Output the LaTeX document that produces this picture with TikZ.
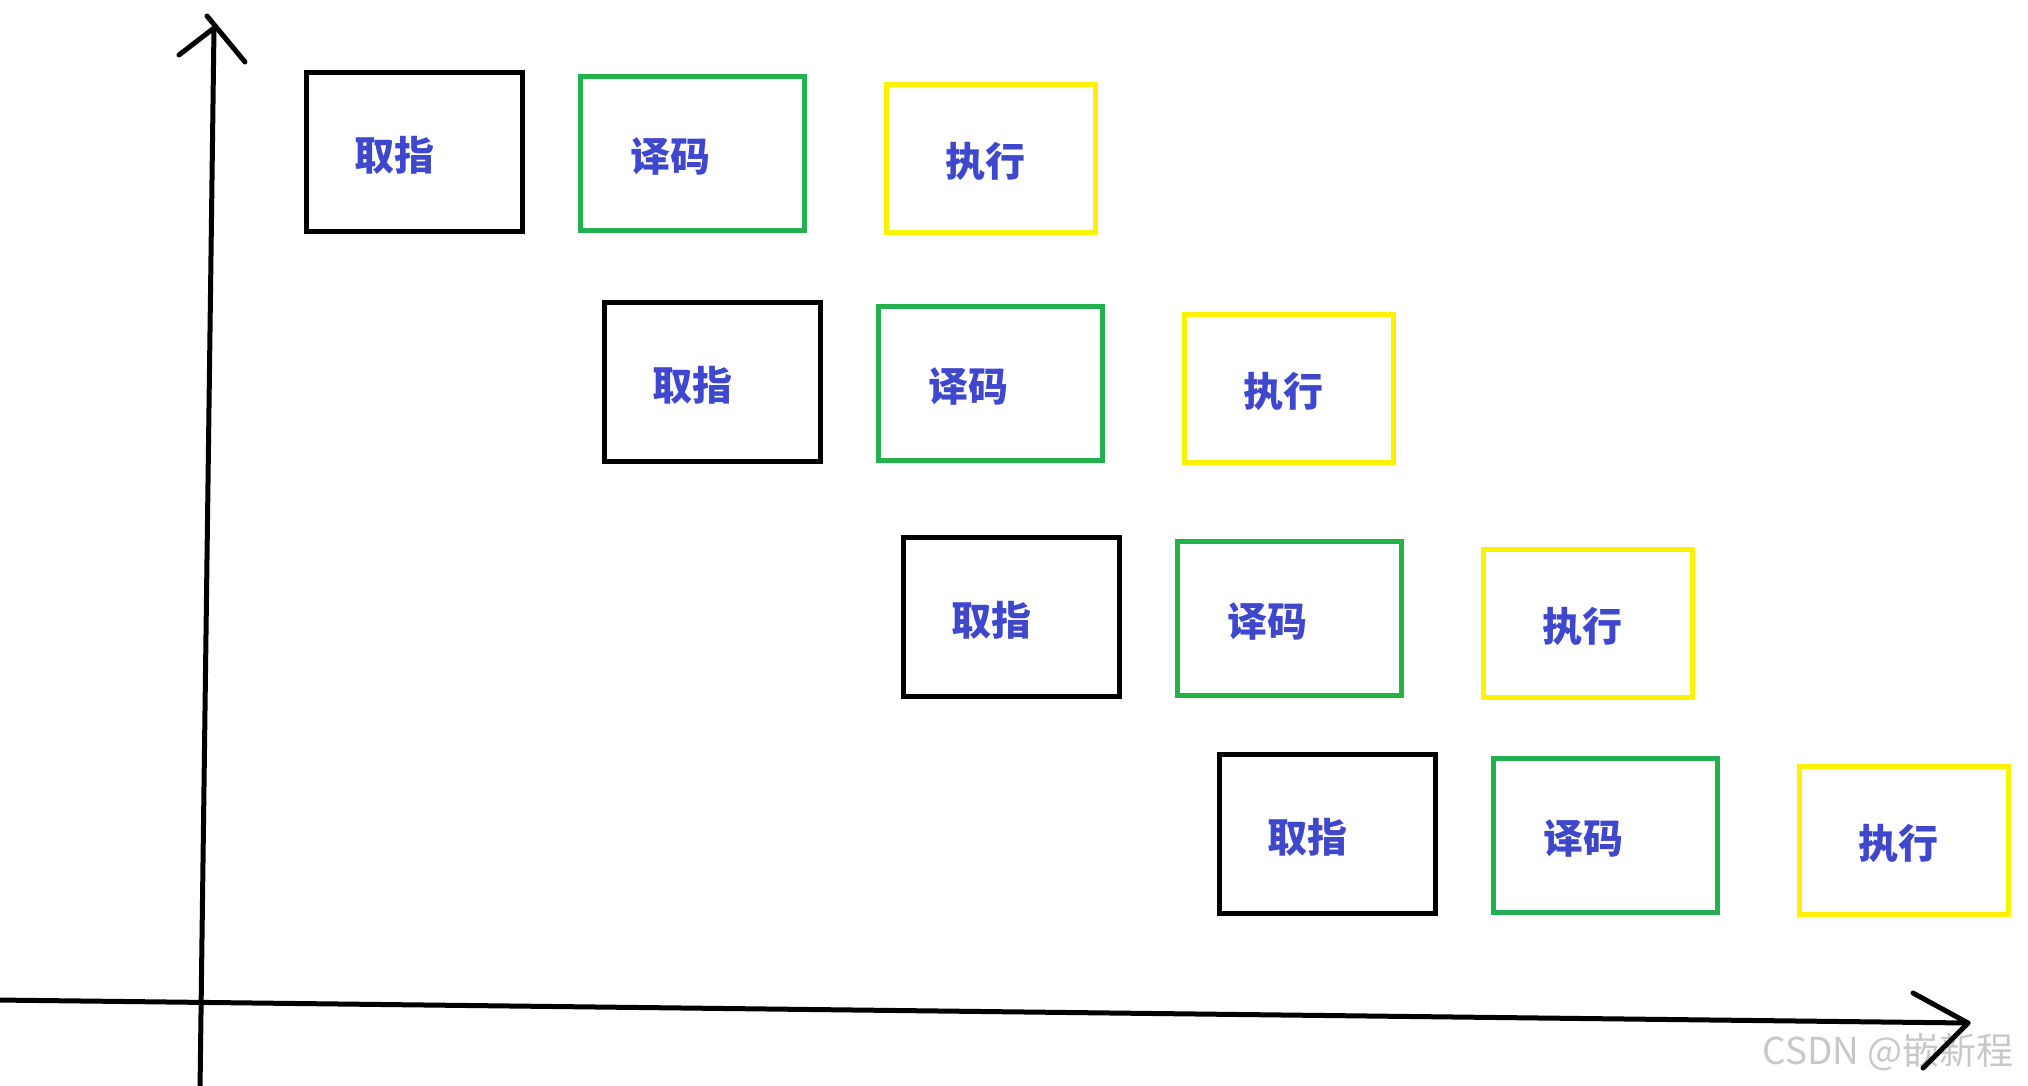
\documentclass[tikz,border=0pt]{standalone}
\usepackage{fontspec}
\newfontfamily\cjk{Noto Sans CJK SC}
\usetikzlibrary{positioning}
\definecolor{stageBlue}{RGB}{63,72,204}
\definecolor{stageGreen}{RGB}{34,177,76}
\definecolor{stageYellow}{RGB}{255,242,0}
\definecolor{markGray}{RGB}{200,200,200}
\newcommand{\pipeRow}[3]{%%
  \node[fetchStyle,label={[labelStyle,xshift=-10pt]center:取指}] (fetch#3) at (#1+110.5,#2+82) {};
  \node[decodeStyle,label={[labelStyle,xshift=-11pt]center:译码}] (decode#3) at (#1+388.5,#2+83.5) {};
  \node[executeStyle,label={[labelStyle,xshift=-3pt]center:执行}] (execute#3) at (#1+687,#2+88.5) {};
}
\begin{document}
\begin{tikzpicture}[%%
  x=0.5pt,y=-0.5pt,%%
  axisStyle/.style={line width=2.5pt,line cap=round,line join=round,black},%%
  boxStyle/.style={draw,line width=2.5pt,inner sep=0pt},%%
  labelStyle/.style={text=stageBlue,inner sep=0pt,yshift=-1.5pt,%%
    font=\cjk\bfseries\fontsize{20}{24}\selectfont},%%
  fetchStyle/.style={boxStyle,black,minimum width=108pt,minimum height=79.5pt},%%
  decodeStyle/.style={boxStyle,stageGreen,minimum width=112pt,minimum height=77pt},%%
  executeStyle/.style={boxStyle,stageYellow,minimum width=104.5pt,minimum height=74pt},%%
  markStyle/.style={text=markGray,font=\cjk\fontsize{18.5}{22}\selectfont,inner sep=0pt}
]
\useasboundingbox (0,0) rectangle (2028,1086);
%%
%% The time axis and the instruction axis.
\coordinate (yLow) at (200,1090);
\coordinate (yTip) at (214,28);
\coordinate (xLow) at (-4,1000);
\coordinate (xTip) at (1968,1023);
\node[markStyle,anchor=west] (mark) at (1762,1052) {CSDN @嵌新程};
\draw[axisStyle] (yLow) -- (yTip);
\draw[axisStyle] (179,55) -- (yTip);
\draw[axisStyle] (207,16) -- (245,62);
\draw[axisStyle] (xLow) -- (xTip);
\draw[axisStyle] (1913,993) -- (xTip) -- (1923,1068);
%%
%% One row per instruction.
\foreach \x/\y/\i in {304/70/1,602/300/2,901/535/3,1217/752/4}{
  \pipeRow{\x}{\y}{\i}
}
\end{tikzpicture}
\end{document}
